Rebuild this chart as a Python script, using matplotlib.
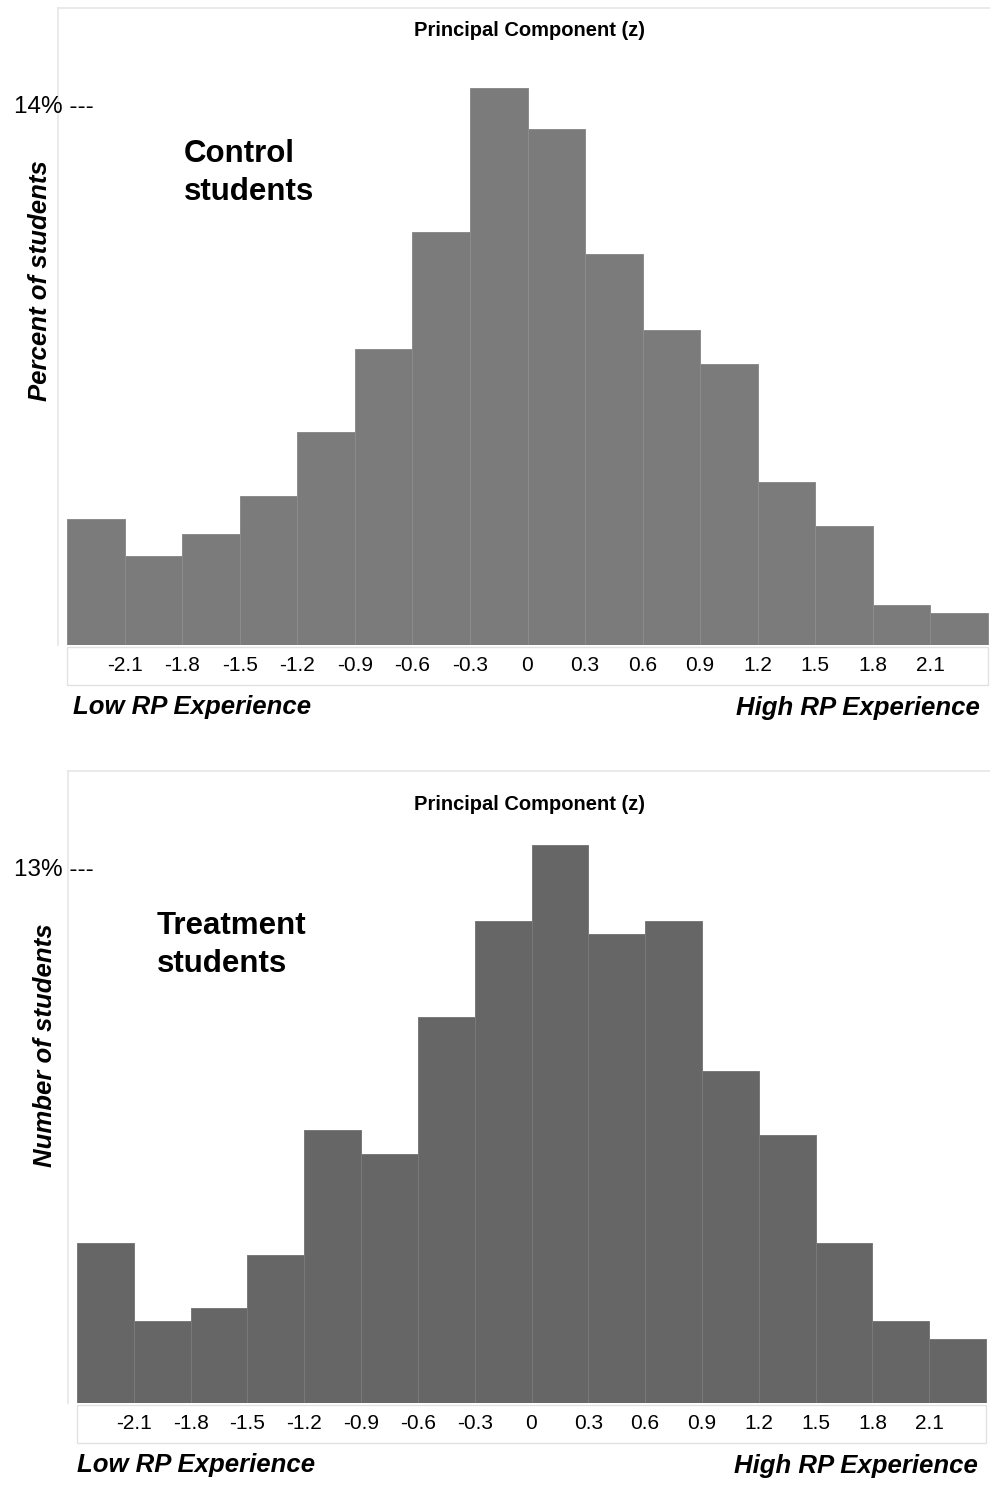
import matplotlib
matplotlib.use("Agg")
import matplotlib.pyplot as plt
import numpy as np
from matplotlib.patches import Rectangle
from matplotlib.transforms import blended_transform_factory

plt.rcParams['font.family'] = ['Liberation Sans', 'DejaVu Sans']

# bin edges of the principal component (z), 16 bins of 0.3
edges = np.round(np.arange(-2.4, 2.4001, 0.3), 1)
tick_vals = edges[1:-1]
tick_labels = ["0" if abs(v) < 1e-9 else f"{v:.1f}" for v in tick_vals]

# percent of students per bin
control_pct = [3.28, 2.32, 2.89, 3.88, 5.54, 7.70, 10.75, 14.49,
               13.43, 10.17, 8.20, 7.31, 4.24, 3.10, 1.04, 0.83]
treatment_pct = [3.90, 2.00, 2.32, 3.61, 6.66, 6.07, 9.41, 11.76,
                 13.61, 11.44, 11.76, 8.10, 6.54, 3.90, 2.00, 1.56]

W, H = 990, 1489
fig = plt.figure(figsize=(W / 100, H / 100), dpi=100)


def fx(x):
    return x / W


def fy(y):
    return 1 - y / H


def panel(frame_l, frame_t, bar_l, bar_r, base, ref_y, ref_val, data,
          color, edge, ref_label, group, ylab, ylab_xy, group_xy, title_y,
          low_x, frame_r=990):
    binw_px = (bar_r - bar_l) / 16
    u = 0.3 / binw_px  # data units per pixel
    ax = fig.add_axes([fx(frame_l), fy(base), fx(frame_r - frame_l),
                       (base - frame_t) / H])
    ax.set_xlim(-2.4 - (bar_l - frame_l) * u, 2.4 + (frame_r - bar_r) * u)
    ymax = (base - frame_t) / (base - ref_y) * ref_val
    ax.set_ylim(0, ymax)
    ax.bar(edges[:-1], data, width=0.3, align='edge', color=color,
           edgecolor=edge, linewidth=0.7)
    for s in ['right', 'bottom']:
        ax.spines[s].set_visible(False)
    for s in ['top', 'left']:
        ax.spines[s].set_color('#e6e6e6')
        ax.spines[s].set_linewidth(1.2)
    ax.set_yticks([])
    ax.set_xticks(tick_vals)
    ax.set_xticklabels(tick_labels, fontsize=15)
    ax.tick_params(axis='x', length=0, pad=8)

    # white tick label strip with faint shadow
    fig.add_artist(Rectangle((fx(bar_l), fy(base + 40)), fx(bar_r - bar_l),
                             38 / H, facecolor='white', edgecolor='#e2e2e2',
                             linewidth=1.0, zorder=0))

    tr = blended_transform_factory(ax.transAxes, ax.transData)
    ax.text((94 - frame_l) / (frame_r - frame_l), ref_val, ref_label,
            transform=tr, ha='right', va='center', fontsize=17.5)

    fig.text(fx(530), fy(title_y), "Principal Component (z)", ha='center',
             va='center', fontsize=14.5, fontweight='bold')
    fig.text(fx(group_xy[0]), fy(group_xy[1]), group, ha='left', va='center',
             fontsize=22.5, fontweight='bold', linespacing=1.32)
    fig.text(fx(ylab_xy[0]), fy(ylab_xy[1]), ylab, rotation=90, ha='center',
             va='center', fontsize=18.5, fontweight='bold', style='italic')
    fig.text(fx(low_x), fy(base + 62), "Low RP Experience", ha='left',
             va='center', fontsize=18.5, fontweight='bold', style='italic')
    fig.text(fx(bar_r - 8), fy(base + 63), "High RP Experience", ha='right',
             va='center', fontsize=18.5, fontweight='bold', style='italic')
    return ax


panel(58, 8, 67, 988, 645, 107, 14, control_pct, '#7b7b7b', '#8c8c8c',
      "14% ---", "Control\nstudents", "Percent of students", (40, 281),
      (184, 173), 30, 73)
panel(68, 771, 77, 986, 1403, 870, 13, treatment_pct, '#666666', '#7a7a7a',
      "13% ---", "Treatment\nstudents", "Number of students", (45, 1045),
      (157, 945), 804, 77)

fig.savefig("out.png", dpi=100)
